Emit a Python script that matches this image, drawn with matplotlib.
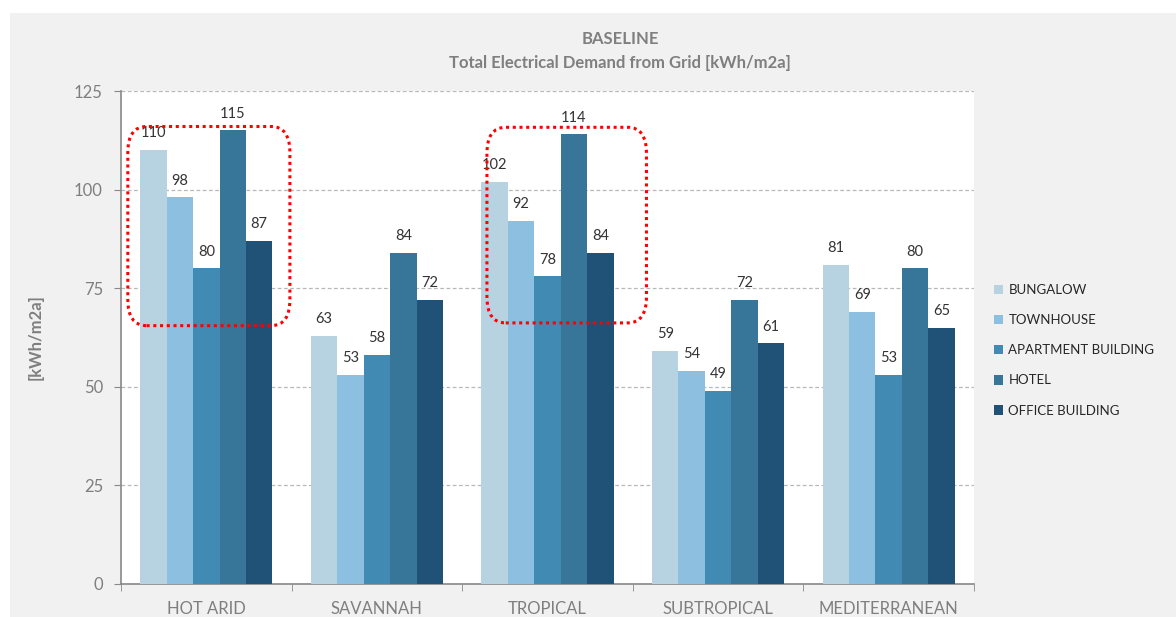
import matplotlib.pyplot as plt
from matplotlib.patches import Rectangle, FancyBboxPatch
import numpy as np

plt.rcParams['font.family'] = ['Lato', 'DejaVu Sans']

climates = ["HOT ARID", "SAVANNAH", "TROPICAL", "SUBTROPICAL", "MEDITERRANEAN"]
bungalow = [110, 63, 102, 59, 81]
townhouse = [98, 53, 92, 54, 69]
apartment = [80, 58, 78, 49, 53]
hotel = [115, 84, 114, 72, 80]
office = [87, 72, 84, 61, 65]

series = [("BUNGALOW", bungalow, "#b7d3e2"),
          ("TOWNHOUSE", townhouse, "#8dc0e0"),
          ("APARTMENT BUILDING", apartment, "#418ab4"),
          ("HOTEL", hotel, "#377699"),
          ("OFFICE BUILDING", office, "#1f5276")]

# highlighted groups: (category index, left, right, bottom, top) for the red dotted boxes
highlights = [(0, -0.46, 0.49, 65.5, 116.0),
              (2, -0.355, 0.58, 66.2, 115.8)]

fig = plt.figure(figsize=(11.76, 6.17), dpi=100)
bg = Rectangle((10/1176, 0), 1, 1 - 13/617, transform=fig.transFigure,
               facecolor="#f1f1f1", edgecolor="none", zorder=-10)
fig.add_artist(bg)

ax = fig.add_axes([121/1176, 33/617, 853/1176, 493/617])
ax.set_facecolor("white")
ax.set_zorder(1)

x = np.arange(len(climates))
w = 0.155
for k, (name, vals, col) in enumerate(series):
    pos = x + (k - 2) * w
    bars = ax.bar(pos, vals, w, color=col, label=name, zorder=3)
    for b, v in zip(bars, vals):
        ax.text(b.get_x() + b.get_width() / 2, v + 2.5, f"{v:.0f}", ha="center",
                va="bottom", fontsize=10.5, color="#333333", zorder=4)

ax.set_xlim(-0.5, len(climates) - 0.5)
ax.set_ylim(0, 125)
ax.set_yticks([0, 25, 50, 75, 100, 125])
ax.yaxis.grid(True, linestyle=(0, (3, 2)), color="#b8b8b8", linewidth=0.9, zorder=0)
ax.set_axisbelow(True)

ax.set_xticks(x)
ax.set_xticklabels(climates)
ax.set_xticks(np.arange(len(climates) + 1) - 0.5, minor=True)
ax.tick_params(axis="x", which="major", length=0, pad=12, labelsize=12, labelcolor="#7f7f7f")
ax.tick_params(axis="x", which="minor", length=5, color="#888888", direction="out")
ax.tick_params(axis="y", length=5, color="#888888", labelsize=12, labelcolor="#7f7f7f", pad=8)

for s in ["top", "right"]:
    ax.spines[s].set_visible(False)
for s in ["left", "bottom"]:
    ax.spines[s].set_color("#888888")
    ax.spines[s].set_linewidth(1.2)

ax.set_ylabel("[kWh/m2a]", fontsize=12, color="#7f7f7f", fontweight="bold", labelpad=22)

for ci, lo, hi, bot, top in highlights:
    box = FancyBboxPatch((ci + lo, bot), hi - lo, top - bot,
                         boxstyle="round,pad=0,rounding_size=0.11",
                         mutation_aspect=60, facecolor="none", edgecolor="red",
                         linestyle=(0, (1, 1.2)), linewidth=2.2, clip_on=False, zorder=5)
    ax.add_patch(box)

fig.text(620/1176, 1 - 39/617, "BASELINE", ha="center", va="center",
         fontsize=12, fontweight="bold", color="#7f7f7f")
fig.text(620/1176, 1 - 63/617, "Total Electrical Demand from Grid [kWh/m2a]", ha="center",
         va="center", fontsize=12, fontweight="bold", color="#7f7f7f")

fig.legend(loc="upper left", bbox_to_anchor=(982/1176, 1 - 272/617), frameon=False,
           fontsize=9.5, handlelength=0.7, handleheight=0.7, handletextpad=0.4,
           labelspacing=1.38, labelcolor="#262626")

fig.savefig("out.png", dpi=100)
